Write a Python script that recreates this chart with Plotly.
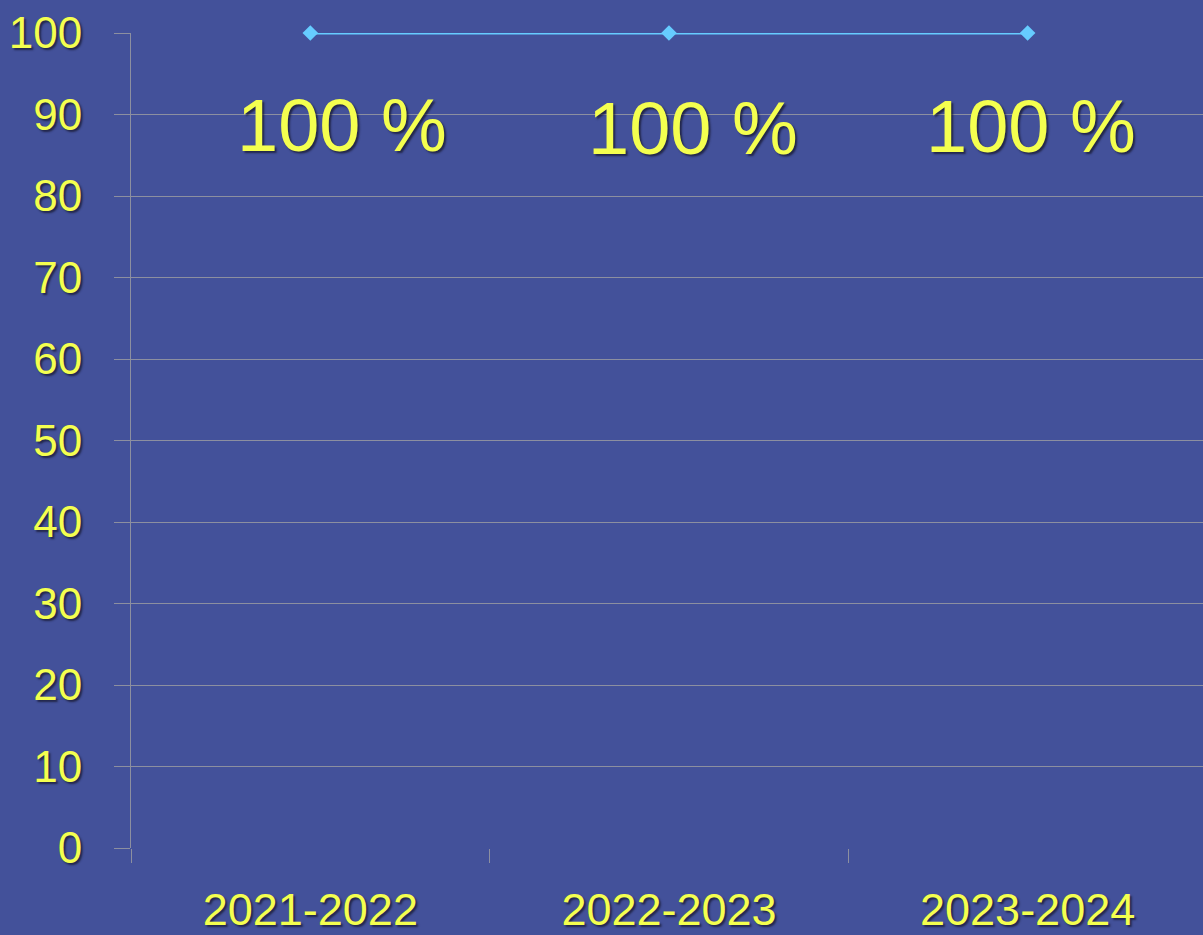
import plotly.graph_objects as go

years = ["2021-2022", "2022-2023", "2023-2024"]
rates = [100, 100, 100]
labels = ["100 %", "100 %", "100 %"]
y_ticks = [0, 10, 20, 30, 40, 50, 60, 70, 80, 90, 100]

bg = "#43519A"
grid = "#8C8FA0"
yellow = "#F4FF4F"
font_name = "Liberation Sans Narrow, Arial Narrow, Liberation Sans, Arial"
shadow = "2px 2px 2px rgba(20,20,40,0.7)"

fig = go.Figure()
fig.add_trace(go.Scatter(
    x=years, y=rates, mode="lines+markers",
    line=dict(color="#66CCFF", width=3),
    marker=dict(symbol="diamond", size=12, color="#66CCFF"),
    cliponaxis=False, showlegend=False,
))

# data labels, offset below each point as in the original
xshifts = [32, 24, 3]
yshifts = [-92, -95, -93]
for yr, v, lab, dx, dy in zip(years, rates, labels, xshifts, yshifts):
    fig.add_annotation(x=yr, y=v, text=lab, showarrow=False,
                       xshift=dx, yshift=dy,
                       font=dict(family=font_name, size=74, color=yellow, shadow=shadow))

fig.update_layout(
    width=1203, height=935,
    paper_bgcolor=bg, plot_bgcolor=bg,
    margin=dict(l=131, r=0, t=33, b=87),
    font=dict(family=font_name, color=yellow),
)
fig.update_xaxes(
    range=[-0.5, 2.489], showgrid=False, zeroline=False, showline=False,
    ticks="outside", tickson="boundaries", ticklen=14, tickcolor=grid, tickwidth=1,
    tickfont=dict(size=45, color=yellow, shadow=shadow), ticklabelstandoff=31,
)
fig.update_yaxes(
    range=[0, 100], tickvals=y_ticks, showgrid=True, gridcolor=grid, gridwidth=1,
    zeroline=False, showline=True, linecolor=grid, linewidth=1,
    ticks="outside", ticklen=16, tickcolor=grid, tickwidth=1,
    tickfont=dict(size=44, color=yellow, shadow=shadow), ticklabelstandoff=23,
)

fig.write_html("out.html", config={"displayModeBar": False},
               post_script="document.body.style.margin='0';")
